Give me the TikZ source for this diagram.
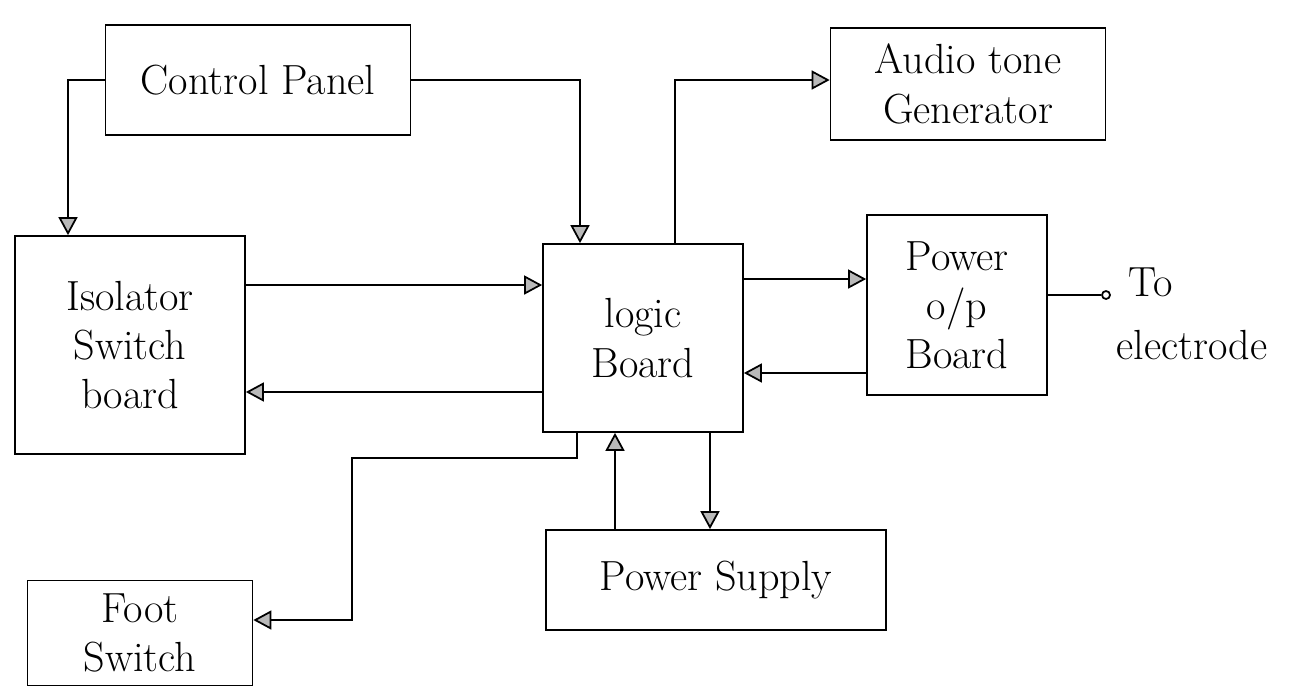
\documentclass[tikz,border=0pt]{standalone}
\usetikzlibrary{arrows.meta}

\begin{document}
\begin{tikzpicture}[x=0.02cm, y=-0.02cm,
    blk/.style={draw, line width=1pt, align=center, font=\fontsize{24}{28}\selectfont},
    arr/.style={line width=1pt, -{Triangle[length=0.36cm, width=0.38cm, fill=gray!55]}},
    txt/.style={font=\fontsize{24}{28}\selectfont}]

\useasboundingbox (0,0) rectangle (1310,697);

% Blocks
\node[blk, minimum width=6.1cm, minimum height=2.2cm] (cpanel) at (258,80) {Control Panel};
\node[blk, minimum width=4.6cm, minimum height=4.36cm] (isolator) at (130,345) {Isolator\\Switch\\board};
\node[blk, minimum width=4cm, minimum height=3.76cm] (logic) at (643,338) {logic\\Board};
\node[blk, minimum width=5.5cm, minimum height=2.24cm] (audio) at (968,84) {Audio tone\\Generator};
\node[blk, minimum width=3.6cm, minimum height=3.6cm] (powerop) at (957,305) {Power\\o/p\\Board};
\node[blk, minimum width=6.8cm, minimum height=2cm] (supply) at (716,580) {Power Supply};
\node[blk, minimum width=4.5cm, minimum height=2.1cm] (foot) at (140,633) {Foot\\Switch};

% Output terminal
\node[circle, draw, line width=1pt, inner sep=0pt, minimum size=0.16cm] (term) at (1106,295) {};
\node[txt, anchor=west] (to) at (1122,282) {To};
\node[txt] (elec) at (1192,345) {electrode};

% Control panel links
\coordinate (cpL) at (68,80);
\draw[arr] (cpanel.west) -- (cpL) -- (cpL |- isolator.north);
\coordinate (cpR) at (580,80);
\draw[arr] (cpanel.east) -- (cpR) -- (cpR |- logic.north);

% Logic board to audio generator
\coordinate (lgA) at (675,80);
\draw[arr] (lgA |- logic.north) -- (lgA) -- (lgA -| audio.west);

% Isolator <-> logic board
\coordinate (isoR1) at ([yshift=1.2cm]isolator.east);
\draw[arr] (isoR1) -- (isoR1 -| logic.west);
\coordinate (isoR2) at ([yshift=-0.94cm]isolator.east);
\draw[arr] (isoR2 -| logic.west) -- (isoR2);

% Logic board <-> power o/p board
\coordinate (lgR1) at ([yshift=1.18cm]logic.east);
\draw[arr] (lgR1) -- (lgR1 -| powerop.west);
\coordinate (lgR2) at ([yshift=-0.7cm]logic.east);
\draw[arr] (lgR2 -| powerop.west) -- (lgR2);
\draw[line width=1pt] ([yshift=0.2cm]powerop.east) -- (term);

% Power supply <-> logic board
\coordinate (psUp) at ([xshift=-0.56cm]logic.south);
\draw[arr] (psUp |- supply.north) -- (psUp);
\coordinate (psDn) at ([xshift=1.34cm]logic.south);
\draw[arr] (psDn) -- (psDn |- supply.north);

% Logic board to foot switch
\coordinate (ftA) at ([xshift=-1.32cm]logic.south);
\coordinate (ftB) at (352,458);
\coordinate (ftC) at (352,620);
\draw[arr] (ftA) -- (ftA |- ftB) -- (ftB) -- (ftC) -- (ftC -| foot.east);

\end{tikzpicture}
\end{document}
